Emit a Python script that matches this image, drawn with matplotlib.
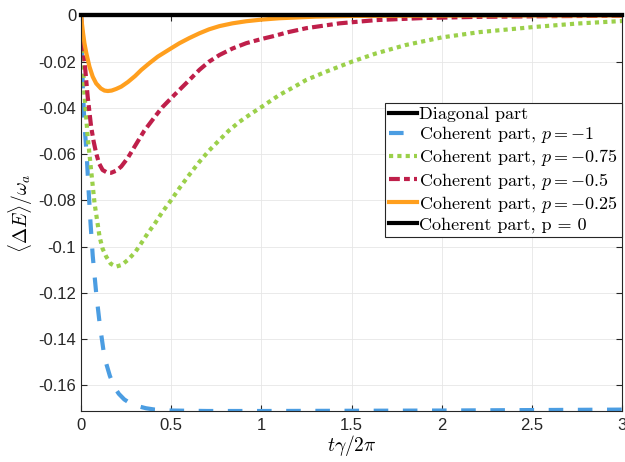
import numpy as np
import matplotlib
matplotlib.use("Agg")
from matplotlib import pyplot as plt

plt.rcParams['mathtext.fontset'] = 'cm'
plt.rcParams['axes.unicode_minus'] = False

# curves
t_diag = [0, 3]
e_diag = [0, 0]

t_p1 = [0, 0.01, 0.019, 0.032, 0.042, 0.053, 0.065, 0.084, 0.103, 0.13, 0.16, 0.186,
        0.21, 0.24, 0.27, 0.30, 0.36, 0.41, 0.5, 0.7, 1.0, 1.5, 2.0, 2.5, 3.0]
e_p1 = [0, -0.031, -0.047, -0.061, -0.0755, -0.090, -0.104, -0.120, -0.133, -0.148,
        -0.156, -0.161, -0.1638, -0.1662, -0.1677, -0.1688, -0.1700, -0.1706, -0.1710,
        -0.1712, -0.1712, -0.1711, -0.1710, -0.1708, -0.1706]

t_p075 = [0, 0.01, 0.019, 0.037, 0.056, 0.075, 0.09, 0.103, 0.12, 0.14, 0.165, 0.195,
          0.225, 0.26, 0.3, 0.334, 0.37, 0.41, 0.45, 0.5, 0.546, 0.6, 0.657, 0.71, 0.768,
          0.82, 0.879, 0.94, 1.003, 1.1, 1.18, 1.249, 1.36, 1.502, 1.637, 1.80, 2.0, 2.21,
          2.51, 2.75, 3.0]
e_p075 = [0, -0.019, -0.034, -0.0525, -0.0669, -0.0812, -0.089, -0.0958, -0.101, -0.1044,
          -0.1075, -0.1087, -0.1080, -0.1058, -0.1025, -0.0986, -0.0943, -0.0900, -0.0852,
          -0.0799, -0.0747, -0.0690, -0.0633, -0.0585, -0.0539, -0.0498, -0.0460, -0.0427,
          -0.0395, -0.0344, -0.0310, -0.0279, -0.0243, -0.0200, -0.0164, -0.0128, -0.0095,
          -0.0072, -0.0050, -0.0035, -0.0024]

t_p05 = [0, 0.01, 0.019, 0.037, 0.056, 0.07, 0.084, 0.10, 0.12, 0.145, 0.167, 0.195,
         0.223, 0.26, 0.297, 0.35, 0.41, 0.45, 0.5, 0.546, 0.6, 0.657, 0.71, 0.768, 0.84,
         0.916, 1.0, 1.064, 1.15, 1.249, 1.434, 1.637, 1.9, 2.2, 2.6, 3.0]
e_p05 = [0, -0.011, -0.0193, -0.0351, -0.0481, -0.0545, -0.0596, -0.0640, -0.0669, -0.0680,
         -0.0681, -0.0672, -0.0654, -0.0616, -0.0568, -0.0500, -0.0438, -0.0398, -0.0358,
         -0.0322, -0.0280, -0.0235, -0.0200, -0.0171, -0.0143, -0.0120, -0.0102, -0.0090,
         -0.0072, -0.0055, -0.0034, -0.0020, -0.0011, -0.0006, -0.0003, -0.0001]

t_p025 = [0, 0.01, 0.019, 0.03, 0.047, 0.065, 0.084, 0.11, 0.13, 0.149, 0.17, 0.195, 0.223,
          0.26, 0.3, 0.334, 0.38, 0.426, 0.5, 0.546, 0.6, 0.657, 0.71, 0.768, 0.84, 0.916,
          1.0, 1.1, 1.3, 1.5, 1.8, 2.2, 3.0]
e_p025 = [0, -0.0068, -0.012, -0.0165, -0.0222, -0.0265, -0.0294, -0.0316, -0.0325, -0.0327,
          -0.0325, -0.0318, -0.0308, -0.0288, -0.0262, -0.0236, -0.0206, -0.0178, -0.0142,
          -0.0120, -0.0098, -0.0077, -0.0060, -0.0046, -0.0034, -0.0025, -0.0018, -0.0012,
          -0.0005, -0.0002, -0.0001, 0, 0]

t_p0 = [0, 3]
e_p0 = [0, 0]

xticks = [0, 0.5, 1, 1.5, 2, 2.5, 3]
xticklabels = ['0', '0.5', '1', '1.5', '2', '2.5', '3']
yticks = [0, -0.02, -0.04, -0.06, -0.08, -0.1, -0.12, -0.14, -0.16]
yticklabels = ['0', '-0.02', '-0.04', '-0.06', '-0.08', '-0.1', '-0.12', '-0.14', '-0.16']

fig = plt.figure(figsize=(6.25, 4.62), dpi=100)
ax = fig.add_axes([0.1296, 0.1104, 0.8656, 0.8561])

lw = 3
ax.plot(t_diag, e_diag, color='black', lw=lw, zorder=5, clip_on=False, label='Diagonal part')
ax.plot(t_p1, e_p1, color='#4b9de2', lw=lw, ls=(0, (3.5, 3.5)), label='Coherent part, $p=-1$')
ax.plot(t_p075, e_p075, color='#9bd04a', lw=lw, ls=(0, (1, 1)), label='Coherent part, $p=-0.75$')
ax.plot(t_p05, e_p05, color='#bf1f4a', lw=lw, ls=(0, (2.6, 1, 1.4, 1)), label='Coherent part, $p=-0.5$')
ax.plot(t_p025, e_p025, color='#ff9f1e', lw=lw, label='Coherent part, $p=-0.25$')
ax.plot(t_p0, e_p0, color='black', lw=lw, zorder=5, clip_on=False, label='Coherent part, p = 0')

ax.set_xlim(0, 3)
ax.set_ylim(-0.1712, 0)
ax.set_xticks(xticks)
ax.set_xticklabels(xticklabels)
ax.set_yticks(yticks)
ax.set_yticklabels(yticklabels)

ax.grid(True, color='#e6e6e6', lw=0.6)
ax.set_axisbelow(True)
ax.tick_params(direction='in', top=True, right=True, length=4, width=0.8,
               colors='#262626', labelsize=12)
for lbl in ax.get_xticklabels() + ax.get_yticklabels():
    lbl.set_fontfamily('Liberation Sans')
for s in ax.spines.values():
    s.set_color('#262626')
    s.set_linewidth(0.8)
ax.tick_params(axis='x', pad=5)

ax.set_xlabel(r'$t\gamma/2\pi$', fontsize=14, labelpad=0)
ax.set_ylabel(r'$\langle\Delta E\rangle/\omega_a$', fontsize=14, labelpad=2)

leg = ax.legend(loc='upper right', bbox_to_anchor=(1.0, 0.779), borderaxespad=0,
                prop={'family': 'cmr10', 'size': 13}, handlelength=1.55, handletextpad=0.15,
                labelspacing=0.12, borderpad=0.2, fancybox=False, framealpha=1,
                edgecolor='#262626')
leg.get_frame().set_linewidth(0.8)

fig.savefig('out.png', dpi=100)
